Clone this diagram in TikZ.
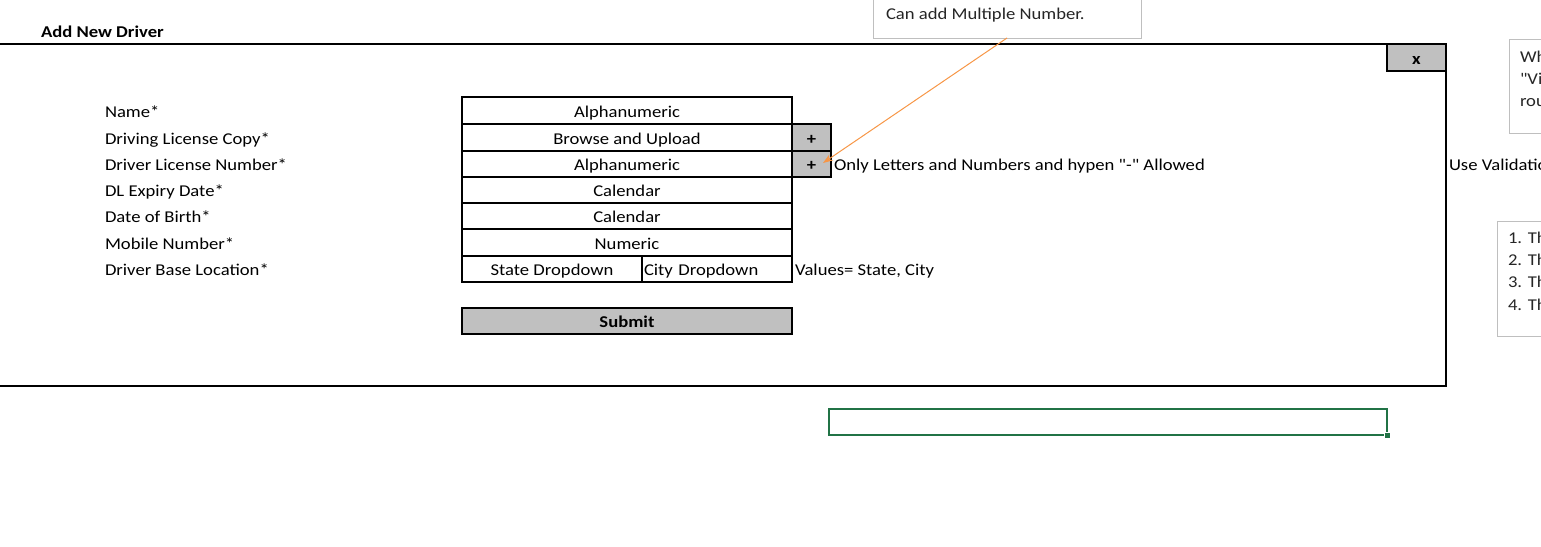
\documentclass[tikz,border=0pt]{standalone}
\usepackage{fontspec}
\setmainfont{Carlito}[FakeStretch=1.13]
\newfontfamily\qfont{Carlito}[FakeStretch=1.13]
\usetikzlibrary{arrows.meta}
\definecolor{btngray}{HTML}{C0C0C0}
\definecolor{notegray}{HTML}{BFBFBF}
\definecolor{xlgreen}{HTML}{217346}
\definecolor{arroworange}{HTML}{F79646}
\definecolor{notetext}{HTML}{262626}
\begin{document}
\begin{tikzpicture}[x=1pt,y=-1pt,
  every node/.style={font=\fontsize{16.5}{19}\selectfont, inner sep=0pt, outer sep=0pt},
  cell/.style={draw, line width=1.6pt, anchor=north west, align=center, text height=13pt, text depth=0pt, minimum width=330pt, minimum height=27pt},
  lbl/.style={anchor=base west},
  btn/.style={cell, fill=btngray, font=\fontsize{16.5}{19}\selectfont\bfseries},
  note/.style={draw=notegray, line width=1pt, fill=white, anchor=north west},
  notetxt/.style={anchor=base west, text=notetext}
]
\useasboundingbox (0,0) rectangle (1541,546);
\clip (0,0) rectangle (1541,546);

% title and frame
\node[lbl, font=\fontsize{16.5}{19}\selectfont\bfseries] (title) at (41,37) {Add New Driver};
\draw[line width=2pt] (-5,44) -- (1446,44) -- (1446,386) -- (-5,386);
\node[btn, minimum width=59pt, minimum height=27pt] (close) at (1387,44) {x};

% labels
\node[lbl] (lname) at (105,117) {Name*};
\node[lbl] (lcopy) at (105,144) {Driving License Copy*};
\node[lbl] (lnum)  at (105,170) {Driver License Number*};
\node[lbl] (lexp)  at (105,196) {DL Expiry Date*};
\node[lbl] (ldob)  at (105,222) {Date of Birth*};
\node[lbl] (lmob)  at (105,249) {Mobile Number*};
\node[lbl] (lloc)  at (105,275) {Driver Base Location*};

% fields
\node[cell] (fname) at (462,97) {Alphanumeric};
\node[cell] (fcopy) at (462,124) {Browse and Upload};
\node[cell, minimum height=26pt] (fnum) at (462,151) {Alphanumeric};
\node[cell, minimum height=26pt] (fexp) at (462,177) {Calendar};
\node[cell, minimum height=26pt] (fdob) at (462,203) {Calendar};
\node[cell] (fmob) at (462,229) {Numeric};
\node[cell, minimum width=180pt, minimum height=26pt] (fstate) at (462,256) {State Dropdown};
\node[cell, minimum width=150pt, minimum height=26pt, text width=146pt, inner xsep=2pt, align=left] (fcity) at (642,256) {City Dropdown};

\node[btn, minimum width=39pt] (plus1) at (792,124) {+};
\node[btn, minimum width=39pt, minimum height=26pt] (plus2) at (792,151) {+};

\node[btn, minimum height=26pt] (submit) at (462,308) {Submit};

% side texts
\node[lbl, font=\fontsize{16.5}{19}\qfont] (tonly) at (834,170) {Only Letters and Numbers and hypen "-" Allowed};
\node[lbl] (tvals) at (795,275) {Values= State, City};
\node[lbl] (tuse) at (1449,170) {Use Validatio};

% comment boxes
\node[note, minimum width=268pt, minimum height=44pt] (note1) at (873,-6) {};
\node[notetxt] (note1t) at (886,19) {Can add Multiple Number.};
\coordinate (tip) at (823,163);
\draw[arroworange, line width=1pt, -{Stealth[length=10pt,width=7pt]}] (note1.south) -- (tip);

\node[note, minimum width=60pt, minimum height=94pt] (note2) at (1509,39) {};
\node[notetxt] (note2a) at (1520,62) {Wh};
\node[notetxt, font=\fontsize{16.5}{19}\qfont] (note2b) at (1520,84) {"Vi};
\node[notetxt] (note2c) at (1520,106) {rou};

\node[note, minimum width=70pt, minimum height=115pt] (note3) at (1497,221) {};
\node[notetxt] (note3a) at (1508,243) {1. Th};
\node[notetxt] (note3b) at (1508,265) {2. Th};
\node[notetxt] (note3c) at (1508,287) {3. Th};
\node[notetxt] (note3d) at (1508,310) {4. Th};

% selected cell
\node[draw=xlgreen, line width=2pt, anchor=north west, minimum width=558pt, minimum height=26pt] (sel) at (829,409) {};
\node[fill=xlgreen, draw=white, line width=1pt, minimum size=6pt] (handle) at (sel.south east) {};
\end{tikzpicture}
\end{document}
